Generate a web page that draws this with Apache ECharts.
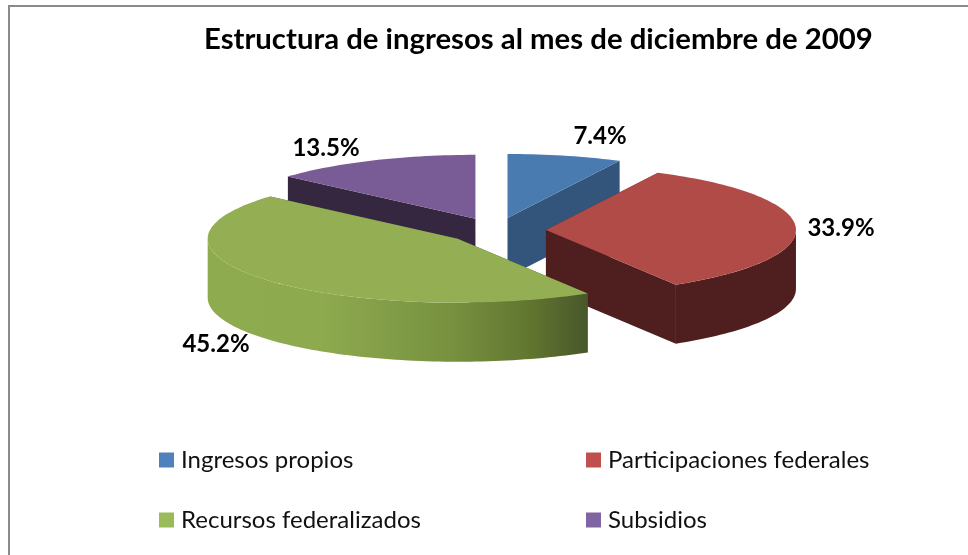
<!DOCTYPE html>
<html>
<head>
<meta charset="utf-8">
<style>
  html, body { margin: 0; padding: 0; background: #fff; }
  #chart { width: 968px; height: 555px; }
</style>
<script src="https://cdn.jsdelivr.net/npm/echarts@6/dist/echarts.min.js"></script>
</head>
<body>
<div id="chart"></div>
<script>
const chartTitle = 'Estructura de ingresos al mes de diciembre de 2009'
const categories = ['Ingresos propios', 'Participaciones federales', 'Recursos federalizados', 'Subsidios']
const values = [7.4, 33.9, 45.2, 13.5]

// pie geometry, tilted disc seen from above
const CX = 496
const CY = 230.5
const RX = 250
const TILT = 0.256
const EXPLODE = 50
const DEPTH = 59

const legendColors = ['#4f81bd', '#c0504d', '#9bbb59', '#8064a2']
const topColors = ['#4a7bb0', '#b14b48', '#93ae53', '#795c95']
const sideColors = ['#33557c', '#4e1f1e', '#7d9546', '#362741']
const drawOrder = [2, 3, 4, 1]
const labelAnchors = [[600, 136], [841, 228], [216, 344], [326, 148]]

const total = values.reduce((a, b) => a + b, 0)

function sliceAngles (i) {
  const before = values.slice(0, i).reduce((a, b) => a + b, 0)
  return [before / total * Math.PI * 2, (before + values[i]) / total * Math.PI * 2]
}

function point (ox, oy, angle, dy) {
  return [ox + RX * Math.sin(angle), oy - RX * TILT * Math.cos(angle) + (dy || 0)]
}

function arcPoints (ox, oy, a0, a1, dy) {
  const steps = Math.max(6, Math.ceil((a1 - a0) * 40))
  const pts = []
  for (let s = 0; s <= steps; s++) {
    pts.push(point(ox, oy, a0 + (a1 - a0) * s / steps, dy))
  }
  return pts
}

function wallFill (i) {
  // only the long front wall of the green slice is shaded
  if (i !== 2) return sideColors[i]
  return {
    type: 'linear',
    x: 207, y: 0, x2: 588, y2: 0,
    global: true,
    colorStops: [
      { offset: 0, color: '#8fab50' },
      { offset: 0.3, color: '#8eaa4f' },
      { offset: 0.65, color: '#76903f' },
      { offset: 0.85, color: '#61752f' },
      { offset: 1, color: '#48572a' }
    ]
  }
}

function renderSlice (i) {
  const [a0, a1] = sliceAngles(i)
  const mid = (a0 + a1) / 2
  const ox = CX + EXPLODE * Math.sin(mid)
  const oy = CY - EXPLODE * TILT * Math.cos(mid)
  const top = arcPoints(ox, oy, a0, a1, 0)
  const p0 = top[0]
  const p1 = top[top.length - 1]
  const cut0 = [[ox, oy], p0, [p0[0], p0[1] + DEPTH], [ox, oy + DEPTH]]
  const cut1 = [[ox, oy], p1, [p1[0], p1[1] + DEPTH], [ox, oy + DEPTH]]
  const cutFill = i === 2 ? '#48572a' : sideColors[i]
  const children = [
    { type: 'polygon', shape: { points: cut1 }, style: { fill: cutFill } },
    { type: 'polygon', shape: { points: cut0 }, style: { fill: cutFill } }
  ]
  // the outer wall shows only on the half of the disc facing the viewer
  const f0 = Math.max(a0, Math.PI / 2)
  const f1 = Math.min(a1, Math.PI * 1.5)
  if (f1 > f0) {
    const wall = arcPoints(ox, oy, f0, f1, 0).concat(arcPoints(ox, oy, f0, f1, DEPTH).reverse())
    children.push({ type: 'polygon', shape: { points: wall }, style: { fill: wallFill(i) } })
  }
  children.push({ type: 'polygon', shape: { points: [[ox, oy]].concat(top) }, style: { fill: topColors[i] } })
  children.push({
    type: 'text',
    style: {
      x: labelAnchors[i][0],
      y: labelAnchors[i][1],
      text: values[i].toFixed(1) + '%',
      fill: '#000',
      font: 'bold 24px Lato',
      align: 'center',
      verticalAlign: 'middle'
    }
  })
  return { type: 'group', children: children }
}

const series = categories.map((name, i) => ({
  name: name,
  type: 'custom',
  coordinateSystem: 'none',
  z: drawOrder[i],
  silent: true,
  itemStyle: { color: legendColors[i] },
  data: [values[i]],
  renderItem: () => renderSlice(i)
}))

function legendColumn (names, left) {
  return {
    orient: 'vertical',
    left: left,
    top: 443,
    itemWidth: 15,
    itemHeight: 15,
    itemGap: 36,
    icon: 'rect',
    selectedMode: false,
    data: names,
    textStyle: { fontFamily: 'Lato', fontSize: 24, color: '#111', padding: [0, 0, 0, 2] }
  }
}

const myChart = echarts.init(document.getElementById('chart'), null, { renderer: 'canvas' })
myChart.setOption({
  animation: false,
  backgroundColor: '#fff',
  title: {
    text: chartTitle,
    left: 199,
    top: 20,
    textStyle: { fontFamily: 'Lato', fontWeight: 'bold', fontSize: 29.3, color: '#000' }
  },
  legend: [
    legendColumn([categories[0], categories[2]], 154),
    legendColumn([categories[1], categories[3]], 581)
  ],
  graphic: [{
    type: 'rect',
    shape: { x: 9, y: 6, width: 1100, height: 700 },
    style: { fill: 'none', stroke: '#8a8a8a', lineWidth: 2 },
    silent: true
  }],
  series: series
})
</script>
</body>
</html>
